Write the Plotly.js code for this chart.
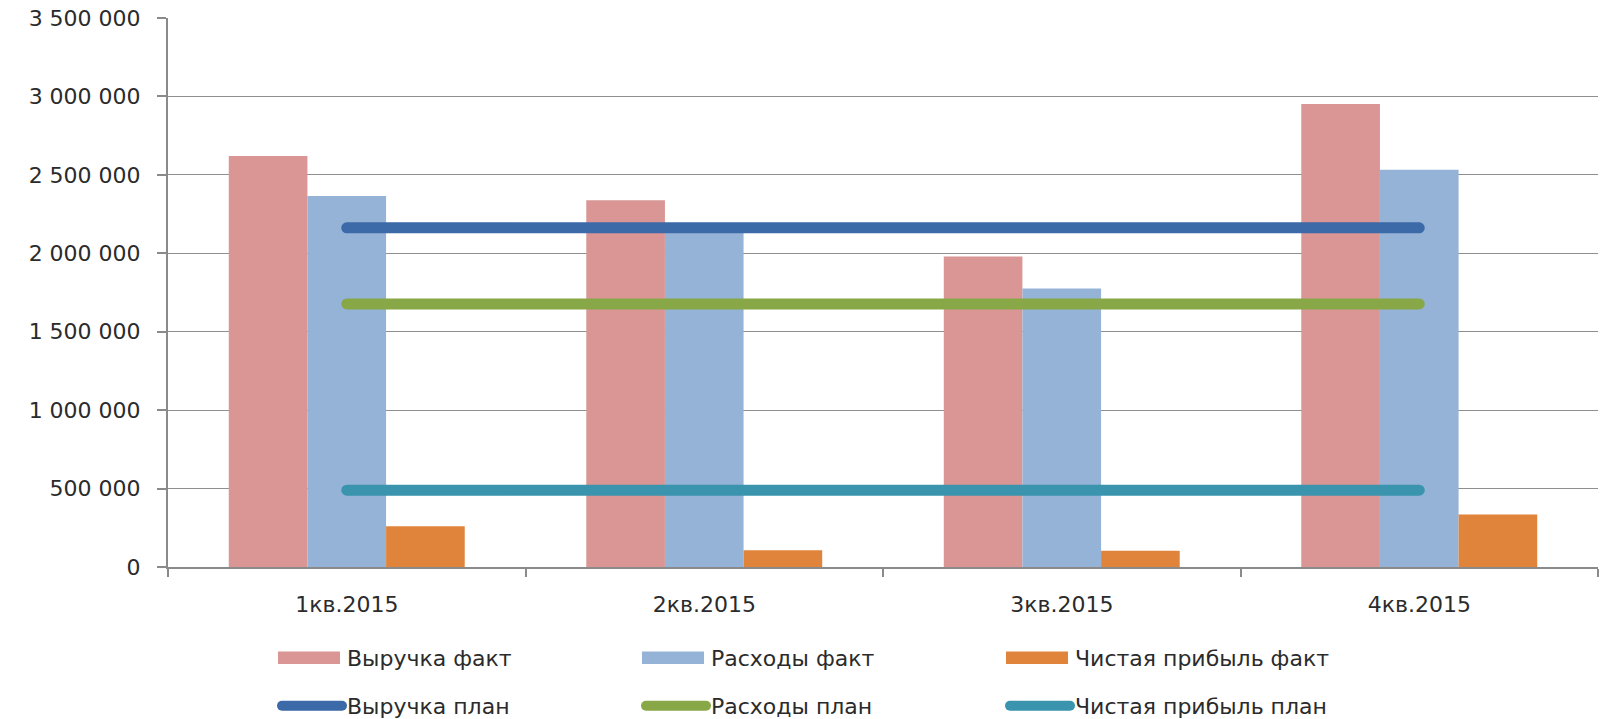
<!DOCTYPE html>
<html>
<head>
<meta charset="utf-8">
<script src="https://cdn.plot.ly/plotly-3.0.1.min.js"></script>
<style>
html, body { margin: 0; padding: 0; background: #fff; }
#chart { width: 1603px; height: 719px; }
.scatterlayer .js-line { stroke-linecap: round; }
.legendlines path { stroke-linecap: round; }
</style>
</head>
<body>
<div id="chart"></div>
<script>
// Data
const quarters = ['1кв.2015', '2кв.2015', '3кв.2015', '4кв.2015'];
const revenueFact = [2620000, 2338000, 1980000, 2952000];
const expensesFact = [2365000, 2165000, 1775000, 2533000];
const profitFact = [260000, 106000, 104000, 334000];
const revenuePlan = [2162000, 2162000, 2162000, 2162000];
const expensesPlan = [1677000, 1677000, 1677000, 1677000];
const profitPlan = [490000, 490000, 490000, 490000];
const yTicks = [0, 500000, 1000000, 1500000, 2000000, 2500000, 3000000, 3500000];

const FONT = 'DejaVu Sans, Verdana, sans-serif';
const TEXT = '#2b2b2b';

const barTrace = (name, y, color) => ({
  type: 'bar', name: name, x: quarters, y: y,
  marker: { color: color, line: { width: 0 } },
  legend: 'legend', hoverinfo: 'x+y+name'
});
const lineTrace = (name, y, color) => ({
  type: 'scatter', mode: 'lines', name: name, x: quarters, y: y,
  line: { color: color, width: 11 },
  legend: 'legend2', hoverinfo: 'x+y+name'
});

const data = [
  barTrace('Выручка факт', revenueFact, '#D99694'),
  barTrace('Расходы факт', expensesFact, '#95B3D7'),
  barTrace('Чистая прибыль факт', profitFact, '#E0843B'),
  lineTrace('Выручка план', revenuePlan, '#3C69A8'),
  lineTrace('Расходы план', expensesPlan, '#88A848'),
  lineTrace('Чистая прибыль план', profitPlan, '#3A94AE')
];

const legendCommon = {
  orientation: 'h',
  xref: 'container', yref: 'container',
  x: 277 / 1603, xanchor: 'left',
  yanchor: 'middle',
  itemwidth: 60,
  entrywidth: 289,
  traceorder: 'normal',
  font: { family: FONT, size: 22, color: TEXT },
  bgcolor: 'rgba(0,0,0,0)', borderwidth: 0
};

const layout = {
  width: 1603, height: 719,
  paper_bgcolor: '#ffffff', plot_bgcolor: '#ffffff',
  margin: { l: 168, r: 5, t: 18, b: 152, autoexpand: false },
  separators: ', ',
  barmode: 'group', bargap: 0.34, bargroupgap: 0,
  font: { family: FONT, size: 22, color: TEXT },
  xaxis: {
    type: 'category',
    tickson: 'boundaries',
    ticks: 'outside', ticklen: 8, tickwidth: 1.5, tickcolor: '#8a8a8a',
    showline: true, linecolor: '#8a8a8a', linewidth: 2,
    showgrid: false, zeroline: false,
    ticklabelstandoff: 17,
    tickfont: { family: FONT, size: 22, color: TEXT }
  },
  yaxis: {
    range: [0, 3500000],
    tickmode: 'array', tickvals: yTicks,
    tickformat: ',.0f',
    ticks: 'outside', ticklen: 9, tickwidth: 1.5, tickcolor: '#8a8a8a',
    showline: true, linecolor: '#8a8a8a', linewidth: 2,
    showgrid: true, gridcolor: '#8f8f8f', gridwidth: 1.3,
    zeroline: false,
    ticklabelstandoff: 12,
    tickfont: { family: FONT, size: 22, color: TEXT }
  },
  legend: Object.assign({}, legendCommon, { y: 1 - 658 / 719 }),
  legend2: Object.assign({}, legendCommon, { y: 1 - 706 / 719 }),
  showlegend: true
};

const gd = document.getElementById('chart');
// Widen the legend swatches of the bar series to Excel-like rectangles
function widenBarSwatches() {
  gd.querySelectorAll('.legendpoints path').forEach(function (p) {
    p.setAttribute('transform', 'translate(32,0) scale(5.17,1.05)');
  });
}
Plotly.newPlot(gd, data, layout, { displayModeBar: false }).then(function () {
  widenBarSwatches();
  gd.on('plotly_afterplot', widenBarSwatches);
});
</script>
</body>
</html>
